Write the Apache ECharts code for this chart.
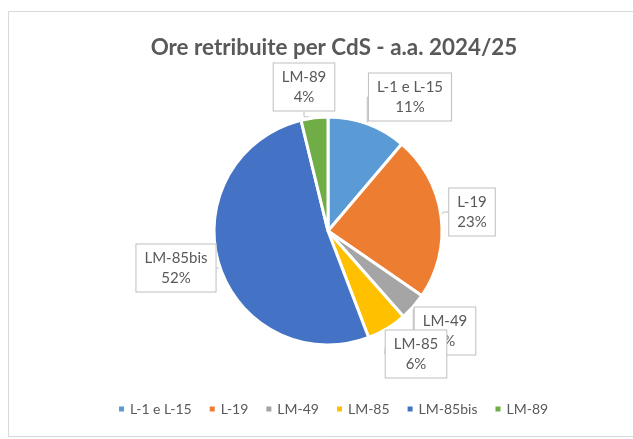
<!DOCTYPE html>
<html>
<head>
<meta charset="utf-8">
<title>Ore retribuite per CdS</title>
<script src="https://cdn.jsdelivr.net/npm/echarts@6/dist/echarts.min.js"></script>
<style>
    html, body { margin: 0; padding: 0; background: #fff; }
    #chart { width: 633px; height: 439px; }
</style>
</head>
<body>
<div id="chart"></div>
<script>
// corsi di studio e quote (%)
var categories = ['L-1 e L-15', 'L-19', 'LM-49', 'LM-85', 'LM-85bis', 'LM-89'];
var values = [11.2, 23.4, 3.9, 5.7, 52.0, 3.8];
var colors = ['#5B9BD5', '#ED7D31', '#A5A5A5', '#FFC000', '#4472C4', '#70AD47'];
// posizione dei riquadri etichetta (centro)
var labelPos = [[410, 97], [472, 212], [445, 331], [416, 354], [176, 268], [304, 87]];

var chart = echarts.init(document.getElementById('chart'));
var textColor = '#595959';
var font = 'Lato, sans-serif';

var option = {
    animation: false,
    color: colors,
    graphic: [{
        type: 'rect',
        shape: { x: 8.5, y: 11.5, width: 640, height: 425 },
        style: { fill: 'none', stroke: '#d9d9d9', lineWidth: 1 },
        silent: true
    }],
    title: {
        text: 'Ore retribuite per CdS - a.a. 2024/25',
        left: 329,
        top: 32,
        textAlign: 'center',
        textStyle: { fontFamily: font, fontSize: 22.4, fontWeight: 'bold', color: textColor }
    },
    legend: {
        bottom: 18,
        left: 112,
        itemWidth: 7,
        itemHeight: 7,
        itemGap: 16,
        icon: 'rect',
        selectedMode: false,
        textStyle: { fontFamily: font, fontSize: 14, color: textColor },
        data: categories
    },
    series: [{
        type: 'pie',
        center: [328, 231],
        radius: [0, 114],
        startAngle: 90,
        clockwise: true,
        silent: true,
        itemStyle: { borderColor: '#fff', borderWidth: 3 },
        label: {
            show: true,
            fontFamily: font,
            fontSize: 15,
            lineHeight: 20,
            color: textColor,
            backgroundColor: '#fff',
            borderColor: '#bfbfbf',
            borderWidth: 1,
            padding: [4, 8, 3, 8],
            align: 'center'
        },
        labelLine: {
            show: true,
            length: 10,
            length2: 5,
            lineStyle: { color: '#bfbfbf', width: 1 }
        },
        labelLayout: function (params) {
            var p = labelPos[params.dataIndex];
            return { x: p[0], y: p[1], align: 'center', verticalAlign: 'middle' };
        },
        data: categories.map(function (c, i) {
            return { name: c, value: values[i] };
        })
    }]
};
option.series[0].label.formatter = function (p) {
    return p.name + '\n' + Math.round(p.percent) + '%';
};
chart.setOption(option);
</script>
</body>
</html>
